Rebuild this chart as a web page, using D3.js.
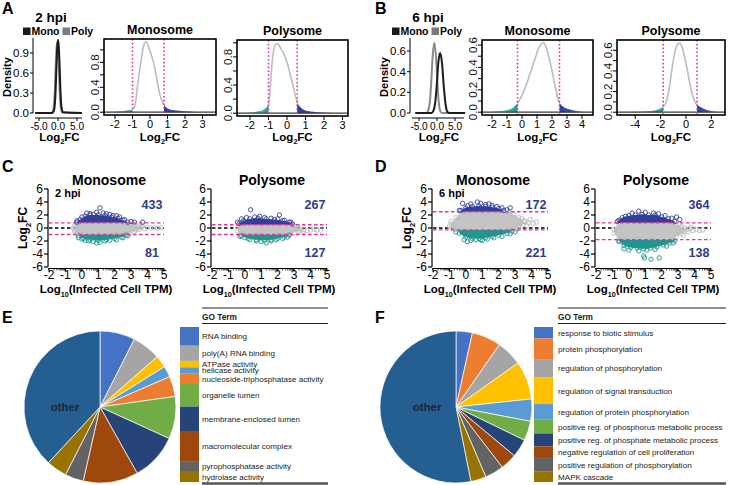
<!DOCTYPE html>
<html><head><meta charset="utf-8">
<script src="https://cdn.jsdelivr.net/npm/d3@7"></script>
<style>body{margin:0;background:#fff}svg{display:block}</style>
</head><body><script>
// ---------------- DATA ----------------
// Mini density plots (Mono / Poly), x = Log2FC, y = density
const miniA_mono = [[-6,0],[-1.6,0],[-1.1,0.03],[-0.7,0.25],[-0.4,0.7],[-0.2,0.98],[0,1.1],[0.2,1.0],[0.4,0.75],[0.6,0.4],[0.9,0.1],[1.3,0.01],[6.3,0]];
const miniA_poly = [[-6,0],[-1.8,0],[-1.3,0.03],[-0.9,0.25],[-0.6,0.7],[-0.4,0.97],[-0.2,1.06],[0,0.97],[0.2,0.72],[0.4,0.4],[0.7,0.1],[1.1,0.01],[6.3,0]];
const miniB_mono = [[-6,0],[-1.5,0],[-1.0,0.02],[-0.5,0.1],[0,0.3],[0.4,0.5],[0.9,0.58],[1.4,0.48],[1.9,0.25],[2.4,0.08],[2.9,0.01],[3.5,0],[7.8,0]];
const miniB_poly = [[-6,0],[-3,0],[-2.5,0.02],[-2,0.1],[-1.6,0.3],[-1.2,0.55],[-0.75,0.68],[-0.3,0.55],[0.1,0.3],[0.5,0.1],[0.9,0.02],[1.4,0],[7.8,0]];
const miniA_yTicks = [0,0.3,0.6,0.9];
const miniB_yTicks = [0,0.2,0.4,0.6];
const mini_xTicks = [-5,0,5];

// Density of Log2FC with thresholds
const densA_mono = [[-2.4,0],[-2.0,0.01],[-1.5,0.02],[-1.2,0.03],[-1.0,0.04],[-0.85,0.12],[-0.7,0.45],[-0.5,0.85],[-0.35,1.08],[-0.2,1.13],[-0.05,1.02],[0.1,0.9],[0.2,0.8],[0.35,0.6],[0.5,0.36],[0.6,0.25],[0.7,0.17],[0.8,0.11],[1.0,0.06],[1.4,0.03],[2.0,0.015],[2.6,0.005],[3.5,0]];
const densA_poly = [[-2.5,0],[-2.0,0.01],[-1.5,0.03],[-1.2,0.06],[-1.0,0.12],[-0.92,0.3],[-0.83,0.64],[-0.7,0.92],[-0.6,0.98],[-0.5,0.99],[-0.4,0.95],[-0.3,0.9],[-0.2,0.86],[-0.1,0.8],[0.0,0.72],[0.1,0.63],[0.2,0.52],[0.3,0.42],[0.4,0.3],[0.5,0.2],[0.55,0.15],[0.7,0.09],[0.9,0.05],[1.3,0.025],[2.0,0.01],[3.1,0]];
const densB_mono = [[-2.4,0],[-2.0,0.005],[-1.5,0.01],[-1.0,0.02],[-0.6,0.04],[-0.3,0.08],[0.0,0.15],[0.3,0.25],[0.6,0.37],[0.9,0.49],[1.1,0.57],[1.3,0.61],[1.45,0.62],[1.6,0.58],[1.8,0.49],[2.0,0.37],[2.2,0.24],[2.4,0.12],[2.5,0.08],[2.8,0.045],[3.2,0.025],[3.6,0.012],[4.0,0.005],[4.4,0]];
const densB_poly = [[-5.2,0],[-4.5,0.003],[-4.0,0.005],[-3.0,0.01],[-2.4,0.02],[-2.0,0.035],[-1.8,0.05],[-1.5,0.12],[-1.3,0.25],[-1.1,0.42],[-0.9,0.57],[-0.7,0.65],[-0.5,0.67],[-0.3,0.63],[-0.1,0.53],[0.1,0.41],[0.3,0.28],[0.5,0.17],[0.7,0.1],[0.87,0.07],[1.2,0.045],[1.6,0.025],[2.0,0.012],[2.5,0.004],[2.8,0]];
const thrA_mono = [-1.0, 0.8];
const thrA_poly = [-1.0, 0.55];
const thrB_mono = [-0.3, 2.5];
const thrB_poly = [-1.8, 0.87];
const densA_yTicks = [0,0.2,0.4,0.6,0.8,1.0];
const densA_yLabels = ["0.0","0.4","0.8"];
const densB_yTicks = [0,0.1,0.2,0.3,0.4,0.5,0.6];
const densB_yLabels = ["0.0","0.2","0.4","0.6"];
const densA_xTicks = [-2,-1,0,1,2,3];
const densBm_xTicks = [-2,-1,0,1,2,3,4];
const densBp_xTicks = [-4,-2,0,2];

// MA-style scatter: gray cloud [x, top, bottom], bands [x, edge], points [x, y]
const cMono_gray = [[-0.45,0.3,-0.4],[-0.3,0.7,-0.9],[0,0.8,-1.0],[1,0.8,-1.0],[2,0.8,-1.0],[2.6,0.8,-1.0],[2.9,0.6,-0.8],[3.2,0.4,-0.5],[3.5,0.2,-0.2]];
const cMono_grayPts = [[3.6,0.1],[3.8,-0.1],[4.0,0.1],[4.2,0.0],[4.4,0.05],[4.6,-0.05],[4.8,0.05],[3.4,0.3],[3.7,0.25],[3.3,-0.3],[-0.5,0.0],[-0.4,-0.3]];
const cMono_blue = [[-0.3,0.9],[-0.1,1.3],[0.2,1.8],[0.5,2.0],[1.0,2.0],[1.4,1.9],[1.8,1.7],[2.2,1.5],[2.5,1.2],[2.8,0.9]];
const cMono_bluePts = [[1.1,3.1],[0.3,2.3],[0.5,2.2],[0.9,2.4],[1.3,2.3],[1.5,2.2],[1.7,2.1],[2.1,1.9],[2.3,1.7],[2.6,1.3],[3.0,1.0],[3.2,0.9],[3.7,0.9],[-0.3,1.1],[0.0,1.7],[0.7,2.1],[1.9,1.9]];
const cMono_teal = [[-0.2,-1.2],[0.1,-1.6],[0.5,-1.8],[1.0,-1.9],[1.5,-1.8],[2.0,-1.6],[2.4,-1.4],[2.7,-1.1]];
const cMono_tealPts = [[0.9,-2.3],[1.1,-2.2],[0.4,-2.0],[0.2,-1.9],[0.7,-2.1],[1.4,-2.0],[1.7,-1.9],[2.1,-1.8],[2.5,-1.5],[2.8,-1.2],[-0.2,-1.5],[0.0,-1.7]];
const cMono_thr = [0.8,-1.0];
const cMono_n = [433,81];

const cPoly_gray = [[-0.45,0.2,-0.5],[-0.3,0.5,-1.0],[0,0.5,-1.0],[1,0.5,-1.0],[2,0.5,-1.0],[2.7,0.5,-1.0],[3.0,0.3,-0.7],[3.3,0.0,-0.5]];
const cPoly_grayPts = [[3.4,-0.3],[3.6,-0.2],[3.8,-0.4],[4.0,-0.3],[4.2,-0.2],[4.4,-0.3],[4.6,-0.3],[3.5,-0.6],[3.2,0.1]];
const cPoly_blue = [[-0.35,0.7],[-0.1,1.1],[0.3,1.4],[0.8,1.5],[1.3,1.4],[1.8,1.3],[2.3,1.1],[2.7,0.9],[2.9,0.6]];
const cPoly_bluePts = [[0.35,2.8],[2.1,2.0],[-0.2,1.4],[0.1,1.6],[0.6,1.7],[0.9,1.8],[1.2,1.6],[1.6,1.5],[2.0,1.4],[2.4,1.2],[2.8,0.9],[-0.45,0.9]];
const cPoly_teal = [[-0.2,-1.2],[0.2,-1.6],[0.7,-1.8],[1.2,-1.9],[1.6,-1.8],[2.0,-1.6],[2.4,-1.4],[2.7,-1.1]];
const cPoly_tealPts = [[1.3,-2.3],[1.0,-2.1],[0.7,-2.0],[1.6,-2.0],[1.9,-1.8],[0.3,-1.8],[2.3,-1.6],[2.6,-1.4],[-0.3,-1.3],[0.0,-1.5]];
const cPoly_thr = [0.5,-1.0];
const cPoly_n = [267,127];

const dMono_gray = [[-0.9,0.6,0.0],[-0.6,1.6,-0.2],[-0.3,2.3,-0.3],[0,2.5,-0.3],[1,2.5,-0.3],[2,2.5,-0.3],[2.6,2.5,-0.3],[2.9,2.1,-0.1],[3.2,1.6,0.3],[3.5,1.1,0.5]];
const dMono_grayPts = [[3.6,1.0],[3.8,0.8],[3.9,1.3],[4.1,0.7],[3.7,0.4],[4.3,0.9],[3.4,1.5],[3.3,0.1],[3.1,-0.2],[-1.0,0.3],[-0.9,1.0]];
const dMono_blue = [[-0.3,2.7],[0.0,3.1],[0.4,3.3],[0.8,3.4],[1.2,3.3],[1.6,3.2],[2.0,3.0],[2.3,2.7]];
const dMono_bluePts = [[-0.2,3.8],[0.3,3.7],[0.7,4.0],[0.9,3.8],[1.2,3.6],[1.6,3.5],[1.9,3.3],[2.2,3.1],[2.5,2.8],[2.7,3.1],[-0.4,2.7],[0.1,3.4],[1.4,3.7]];
const dMono_teal = [[-0.4,-0.8],[0.0,-1.4],[0.4,-1.6],[0.8,-1.6],[1.2,-1.5],[1.6,-1.3],[2.0,-1.1],[2.5,-0.8],[2.8,-0.5]];
const dMono_tealPts = [[0.1,-2.1],[-0.1,-1.8],[0.3,-1.9],[0.6,-1.8],[0.9,-1.8],[1.3,-1.7],[1.7,-1.5],[2.2,-1.3],[2.7,-0.9],[3.0,-0.6],[-0.6,-0.6],[1.0,-1.9]];
const dMono_thr = [2.5,-0.3];
const dMono_n = [172,221];

const dPoly_gray = [[-0.9,-0.2,-0.8],[-0.6,0.6,-1.6],[-0.3,0.8,-1.8],[0.5,0.8,-1.8],[1.5,0.8,-1.8],[2.6,0.8,-1.8],[2.9,0.5,-1.3],[3.2,0.2,-0.9],[3.4,0.0,-0.5]];
const dPoly_grayPts = [[3.5,-0.3],[3.7,-0.1],[3.9,-0.4],[4.1,-0.2],[4.3,-0.4],[4.5,-0.3],[3.6,-0.6],[3.8,0.1],[3.3,-1.1],[3.1,0.6]];
const dPoly_blue = [[-0.7,1.0],[-0.4,1.6],[0.0,1.9],[0.4,2.0],[0.8,2.1],[1.2,2.0],[1.6,2.0],[2.0,1.7],[2.4,1.4],[2.8,1.0]];
const dPoly_bluePts = [[0.6,2.6],[0.2,2.3],[1.0,2.4],[1.5,2.3],[1.8,2.2],[2.2,1.9],[2.9,1.7],[2.6,1.5],[3.1,1.3],[-0.6,1.2],[-0.2,1.8]];
const dPoly_teal = [[-0.6,-2.0],[-0.3,-2.7],[0.1,-3.0],[0.5,-3.1],[0.9,-3.2],[1.3,-3.1],[1.7,-2.9],[2.1,-2.6],[2.5,-2.3],[2.8,-2.0]];
const dPoly_tealPts = [[0.9,-4.3],[0.95,-4.6],[1.35,-4.8],[1.85,-4.6],[0.0,-3.4],[-0.3,-3.2],[0.6,-3.5],[1.6,-3.3],[2.3,-2.8],[2.7,-2.3],[-0.6,-2.1],[1.1,-3.4]];
const dPoly_thr = [0.8,-1.8];
const dPoly_n = [364,138];

const sc_yTicks = [-6,-4,-2,0,2,4,6];
const sc_xTicks = [-2,-1,0,1,2,3,4,5];

// GO term pies
const goE_terms = ["RNA binding","poly(A) RNA binding","ATPase activity","helicase activity","nucleoside-triphosphatase activity","organelle lumen","membrane-enclosed lumen","macromolecular complex","pyrophosphatase activity","hydrolase activity","other"];
const goE_values = [26.9,21.8,9.3,8.5,15.5,32.5,36.2,42.1,14.2,15.8,137.2];
const goF_terms = ["response to biotic stimulus","protein phosphorylation","regulation of phosphorylation","regulation of signal transduction","regulation of protein phosphorylation","positive reg. of phosphorus metabolic process","positive reg. of phosphate metabolic process","negative regulation of cell proliferation","positive regulation of phosphorylation","MAPK cascade","other"];
const goF_values = [12.5,22.4,19.7,29.3,17,15,14,12.6,14.4,11.8,191.3];

// ---------------- STYLE ----------------
const paletteE = ["#4472C4","#A5A5A5","#FFC000","#5B9BD5","#ED7D31","#70AD47","#264478","#9E480E","#636363","#997300","#255E91"];
const paletteF = ["#4472C4","#ED7D31","#A5A5A5","#FFC000","#5B9BD5","#70AD47","#264478","#9E480E","#636363","#997300","#255E91"];
const BLUE = "#33409a", TEAL = "#1f968f", GRAY = "#c4c4c4", PINK = "#e4339a";

const svg = d3.select("body").append("svg").attr("width",729).attr("height",485)
  .style("font-family",'"Liberation Sans", Arial, Helvetica, sans-serif');
const defs = svg.append("defs");

function text(g,x,y,s,size,opt={}){
  return g.append("text").attr("x",x).attr("y",y).attr("font-size",size)
    .attr("font-weight",opt.bold?"bold":"normal").attr("text-anchor",opt.anchor||"start")
    .attr("fill",opt.fill||"#000").text(s);
}
function subLabel(g,x,y,size,pre,sub,post,rotate){
  const t = g.append("text").attr("font-size",size).attr("font-weight","bold").attr("text-anchor","middle");
  if(rotate) t.attr("x",0).attr("y",0).attr("transform",`translate(${x},${y}) rotate(-90)`); else t.attr("x",x).attr("y",y);
  t.append("tspan").text(pre);
  if(sub){
    t.append("tspan").attr("font-size",size*0.62).attr("dy",size*0.3).text(sub);
    t.append("tspan").attr("dy",-size*0.3).text(post);
  }
  return t;
}

// panel letters
[["A",2,14],["B",375,14],["C",2,172],["D",375,172],["E",2,323],["F",375,323]].forEach(p=>text(svg,p[1],p[2],p[0],16,{bold:true}));

// ---------------- Mini density ----------------
function mini(cfg){
  const g = svg.append("g");
  const x = d3.scaleLinear().domain([-5,5]).range(cfg.xr);
  const y = d3.scaleLinear().domain([0,cfg.yRef]).range([113,cfg.yRefPx]);
  text(g,cfg.titleX,22,cfg.title,13.5,{bold:true,anchor:"middle"});
  const lx = cfg.legX;
  g.append("rect").attr("x",lx).attr("y",27.5).attr("width",7.5).attr("height",7.5).attr("fill","#1a1a1a");
  const t1 = text(g,lx+8.5,35,"Mono",10.5,{bold:true});
  const gx = lx+8.5+t1.node().getComputedTextLength()+3;
  g.append("rect").attr("x",gx).attr("y",27.5).attr("width",7.5).attr("height",7.5).attr("fill","#7a7a7a");
  text(g,gx+8.5,35,"Poly",10.5,{bold:true});
  const line = d3.line().x(d=>x(d[0])).y(d=>y(d[1])).curve(d3.curveMonotoneX);
  g.append("path").datum(cfg.poly).attr("d",line).attr("fill","none").attr("stroke","#8a8a8a").attr("stroke-width",2);
  g.append("path").datum(cfg.mono).attr("d",line).attr("fill","none").attr("stroke","#1c1c1c").attr("stroke-width",2);
  g.append("line").attr("x1",cfg.ax).attr("x2",cfg.ax).attr("y1",38).attr("y2",113).attr("stroke","#000").attr("stroke-width",1);
  cfg.yTicks.forEach(v=>{
    g.append("line").attr("x1",cfg.ax-3).attr("x2",cfg.ax).attr("y1",y(v)).attr("y2",y(v)).attr("stroke","#000");
    text(g,cfg.ax-4,y(v)+4,v.toFixed(1),11.5,{anchor:"end"});
  });
  g.append("line").attr("x1",cfg.ax+2).attr("x2",cfg.xEnd).attr("y1",118).attr("y2",118).attr("stroke","#000");
  mini_xTicks.forEach(v=>{
    g.append("line").attr("x1",x(v)).attr("x2",x(v)).attr("y1",118).attr("y2",121).attr("stroke","#000");
    text(g,x(v),130,v.toFixed(1),10,{anchor:"middle"});
  });
  subLabel(g,(cfg.ax+cfg.xEnd)/2+2,141,11.5,"Log","2","FC",false);
  subLabel(g,cfg.ax-22,77,11,"Density","","",true);
}
mini({xr:[39,77],yRef:0.9,yRefPx:53,ax:33,xEnd:82,title:"2 hpi",titleX:51,legX:23,mono:miniA_mono,poly:miniA_poly,yTicks:miniA_yTicks});
mini({xr:[419,455],yRef:0.6,yRefPx:51,ax:410,xEnd:464,title:"6 hpi",titleX:428,legX:392,mono:miniB_mono,poly:miniB_poly,yTicks:miniB_yTicks});

// ---------------- R density panels ----------------
function rdens(cfg){
  const [l,r,t,b] = cfg.box;
  const g = svg.append("g");
  const x = d3.scaleLinear().domain(cfg.xDom).range([l,r]);
  const y = d3.scaleLinear().domain(cfg.yDom).range([b,t]);
  const data = cfg.data, thr = cfg.thr;
  const lg = defs.append("linearGradient").attr("id",cfg.id+"L").attr("gradientUnits","userSpaceOnUse")
    .attr("x1",x(data[0][0])).attr("x2",x(thr[0])).attr("y1",0).attr("y2",0);
  lg.append("stop").attr("offset",0).attr("stop-color","#b9ece8");
  lg.append("stop").attr("offset",1).attr("stop-color","#1b9a92");
  const rg = defs.append("linearGradient").attr("id",cfg.id+"R").attr("gradientUnits","userSpaceOnUse")
    .attr("x1",x(thr[1])).attr("x2",x(data[data.length-1][0])).attr("y1",0).attr("y2",0);
  rg.append("stop").attr("offset",0).attr("stop-color","#2c3a9c");
  rg.append("stop").attr("offset",0.4).attr("stop-color","#4351ad");
  rg.append("stop").attr("offset",1).attr("stop-color","#b3b8e3");
  const area = d3.area().x(d=>x(d[0])).y0(y(0)).y1(d=>y(d[1])).curve(d3.curveMonotoneX);
  const line = d3.line().x(d=>x(d[0])).y(d=>y(d[1])).curve(d3.curveMonotoneX);
  g.append("path").datum(data.filter(d=>d[0]<=thr[0])).attr("d",area).attr("fill",`url(#${cfg.id}L)`);
  g.append("path").datum(data.filter(d=>d[0]>=thr[1])).attr("d",area).attr("fill",`url(#${cfg.id}R)`);
  g.append("path").datum(data.filter(d=>d[0]>=thr[0]&&d[0]<=thr[1])).attr("d",line).attr("fill","none").attr("stroke","#bdbdbd").attr("stroke-width",1.6);
  g.append("line").attr("x1",l).attr("x2",r).attr("y1",y(0)).attr("y2",y(0)).attr("stroke","#3a3a3a").attr("stroke-width",1.2);
  thr.forEach(v=>g.append("line").attr("x1",x(v)).attr("x2",x(v)).attr("y1",t).attr("y2",b)
    .attr("stroke",PINK).attr("stroke-width",1.6).attr("stroke-dasharray","1.6,2.2"));
  g.append("rect").attr("x",l).attr("y",t).attr("width",r-l).attr("height",b-t).attr("fill","none").attr("stroke","#000").attr("stroke-width",1.6);
  cfg.xTicks.forEach(v=>{
    g.append("line").attr("x1",x(v)).attr("x2",x(v)).attr("y1",b).attr("y2",b+4).attr("stroke","#000");
    text(g,x(v),b+13,String(v),11,{anchor:"middle"});
  });
  cfg.yTicks.forEach(v=>g.append("line").attr("x1",l-4).attr("x2",l).attr("y1",y(v)).attr("y2",y(v)).attr("stroke","#000"));
  cfg.yLabels.forEach(s=>{
    const yy = y(parseFloat(s));
    const lab = g.append("g").attr("transform",`translate(${l-5},${yy}) rotate(-90)`);
    lab.append("text").attr("x",0).attr("y",0).attr("text-anchor","middle")
      .attr("font-size",11.5).attr("fill","#111").text(s);
  });
  text(g,(l+r)/2,t-5,cfg.title,12.5,{bold:true,anchor:"middle"});
  subLabel(g,(l+r)/2,141,11.5,"Log","2","FC",false);
}
rdens({id:"am",box:[104,216,39,115],xDom:[-2.629,3.771],yDom:[-0.045,1.175],data:densA_mono,thr:thrA_mono,xTicks:densA_xTicks,yTicks:densA_yTicks,yLabels:densA_yLabels,title:"Monosome"});
rdens({id:"ap",box:[237,348,40,116],xDom:[-2.703,3.297],yDom:[-0.04,1.04],data:densA_poly,thr:thrA_poly,xTicks:densA_xTicks,yTicks:densA_yTicks,yLabels:densA_yLabels,title:"Polysome"});
rdens({id:"bm",box:[482,593,40,115],xDom:[-2.667,4.733],yDom:[-0.025,0.645],data:densB_mono,thr:thrB_mono,xTicks:densBm_xTicks,yTicks:densB_yTicks,yLabels:densB_yLabels,title:"Monosome"});
rdens({id:"bp",box:[617,725,40,115],xDom:[-5.433,3.071],yDom:[-0.027,0.70],data:densB_poly,thr:thrB_poly,xTicks:densBp_xTicks,yTicks:densB_yTicks,yLabels:densB_yLabels,title:"Polysome"});

// ---------------- Scatter (MA) panels ----------------
function scatter(cfg){
  const x0 = cfg.x0;
  const g = svg.append("g");
  const x = d3.scaleLinear().domain([-2,5]).range([x0+1,x0+116]);
  const y = d3.scaleLinear().domain([-6,6]).range([267,189]);
  g.append("line").attr("x1",x0+1).attr("x2",x(5)).attr("y1",y(0)).attr("y2",y(0)).attr("stroke","#000").attr("stroke-width",1.3).attr("stroke-dasharray","3.5,2.5");
  const cv = d3.curveMonotoneX;
  g.append("path").datum(cfg.gray).attr("d",d3.area().x(d=>x(d[0])).y0(d=>y(d[2])).y1(d=>y(d[1])).curve(cv)).attr("fill",GRAY);
  const circ = (pts,col)=>g.selectAll(null).data(pts).join("circle").attr("cx",d=>x(d[0])).attr("cy",d=>y(d[1])).attr("r",2.2)
    .attr("fill","none").attr("stroke",col).attr("stroke-width",0.9);
  circ(cfg.gray.map(d=>[d[0],d[1]]).concat(cfg.gray.map(d=>[d[0],d[2]])),"#bcbcbc");
  circ(cfg.grayPts,"#bcbcbc");
  const [tu,td] = cfg.thr;
  g.append("path").datum(cfg.blue).attr("d",d3.area().x(d=>x(d[0])).y0(y(tu)).y1(d=>y(d[1])).curve(cv)).attr("fill",BLUE);
  circ(cfg.blue,BLUE); circ(cfg.bluePts,BLUE);
  g.append("path").datum(cfg.teal).attr("d",d3.area().x(d=>x(d[0])).y0(y(td)).y1(d=>y(d[1])).curve(cv)).attr("fill",TEAL);
  circ(cfg.teal,TEAL); circ(cfg.tealPts,TEAL);
  cfg.thr.forEach(v=>g.append("line").attr("x1",x0+1).attr("x2",x(5)).attr("y1",y(v)).attr("y2",y(v))
    .attr("stroke",PINK).attr("stroke-width",1.3).attr("stroke-dasharray","3.5,2.5"));
  g.append("line").attr("x1",x0).attr("x2",x0).attr("y1",y(6)).attr("y2",y(-6)).attr("stroke","#000").attr("stroke-width",1.2);
  sc_yTicks.forEach(v=>{
    g.append("line").attr("x1",x0-4).attr("x2",x0).attr("y1",y(v)).attr("y2",y(v)).attr("stroke","#000").attr("stroke-width",1.2);
    text(g,x0-5,y(v)+4,String(v),12,{anchor:"end"});
  });
  const ya = 268.5;
  g.append("line").attr("x1",x0).attr("x2",x(5)).attr("y1",ya).attr("y2",ya).attr("stroke","#000").attr("stroke-width",1.2);
  sc_xTicks.forEach(v=>{
    g.append("line").attr("x1",x(v)).attr("x2",x(v)).attr("y1",ya).attr("y2",ya+3).attr("stroke","#000").attr("stroke-width",1.2);
    text(g,x(v),ya+10,String(v),12,{anchor:"middle"});
    if(v<5) [2,3,4,5,6,7,8,9].forEach(k=>{
      const xv = x(v+Math.log10(k));
      g.append("line").attr("x1",xv).attr("x2",xv).attr("y1",ya).attr("y2",ya+2).attr("stroke","#000").attr("stroke-width",0.7);
    });
  });
  const xl = g.append("text").attr("x",x0+58).attr("y",293).attr("text-anchor","middle").attr("font-size",11.5).attr("font-weight","bold");
  xl.append("tspan").text("Log");
  xl.append("tspan").attr("font-size",7.2).attr("dy",3.5).text("10");
  xl.append("tspan").attr("dy",-3.5).text("(Infected Cell TPM)");
  if(cfg.ylab) subLabel(g,x0-21,228,12,"Log","2","FC",true);
  text(g,x0+61,185,cfg.title,14,{bold:true,anchor:"middle"});
  if(cfg.hpi) text(g,x0+7,197,cfg.hpi,11,{bold:true});
  text(g,x0+104,209,String(cfg.n[0]),12.5,{bold:true,anchor:"middle",fill:"#2e3a8f"});
  text(g,x0+104,257,String(cfg.n[1]),12.5,{bold:true,anchor:"middle",fill:"#2e3a8f"});
}
scatter({x0:48,title:"Monosome",hpi:"2 hpi",ylab:true,gray:cMono_gray,grayPts:cMono_grayPts,blue:cMono_blue,bluePts:cMono_bluePts,teal:cMono_teal,tealPts:cMono_tealPts,thr:cMono_thr,n:cMono_n});
scatter({x0:211,title:"Polysome",gray:cPoly_gray,grayPts:cPoly_grayPts,blue:cPoly_blue,bluePts:cPoly_bluePts,teal:cPoly_teal,tealPts:cPoly_tealPts,thr:cPoly_thr,n:cPoly_n});
scatter({x0:432,title:"Monosome",hpi:"6 hpi",ylab:true,gray:dMono_gray,grayPts:dMono_grayPts,blue:dMono_blue,bluePts:dMono_bluePts,teal:dMono_teal,tealPts:dMono_tealPts,thr:dMono_thr,n:dMono_n});
scatter({x0:595,title:"Polysome",gray:dPoly_gray,grayPts:dPoly_grayPts,blue:dPoly_blue,bluePts:dPoly_bluePts,teal:dPoly_teal,tealPts:dPoly_tealPts,thr:dPoly_thr,n:dPoly_n});

// ---------------- GO pies ----------------
function goPie(cfg){
  const g = svg.append("g");
  const arcs = d3.pie().sort(null).value(d=>d)(cfg.values);
  const arc = d3.arc().innerRadius(0).outerRadius(76);
  g.append("g").attr("transform",`translate(${cfg.cx},${cfg.cy})`).selectAll("path").data(arcs).join("path")
    .attr("d",arc).attr("fill",(d,i)=>cfg.colors[i]).attr("stroke","#fff").attr("stroke-width",0.7);
  text(g,cfg.otherX,411,"other",11.5,{bold:true,anchor:"middle",fill:"#1b2638"});
  const n = cfg.values.length-1;
  const legVals = cfg.values.slice(0,n);
  const hs = d3.scaleLinear().domain([0,d3.sum(legVals)]).range([327,482]);
  let cum = 0;
  legVals.forEach((v,i)=>{
    const y0 = hs(cum), y1 = hs(cum+v); cum += v;
    g.append("rect").attr("x",cfg.sx).attr("y",y0).attr("width",19).attr("height",y1-y0).attr("fill",cfg.colors[i]);
    text(g,cfg.tx,(y0+y1)/2+3,cfg.terms[i],8.1,{fill:"#222"});
  });
  g.append("line").attr("x1",cfg.tx).attr("x2",cfg.tEnd).attr("y1",308).attr("y2",308).attr("stroke","#222").attr("stroke-width",1.2);
  text(g,cfg.tx,320,"GO Term",8.3,{bold:true,fill:"#222"});
  g.append("line").attr("x1",cfg.tx).attr("x2",cfg.tEnd).attr("y1",323.5).attr("y2",323.5).attr("stroke","#222").attr("stroke-width",1.2);
  g.append("line").attr("x1",cfg.tx).attr("x2",cfg.tEnd).attr("y1",483.5).attr("y2",483.5).attr("stroke","#555").attr("stroke-width",2.5);
}
goPie({cx:100,cy:407,otherX:65,values:goE_values,terms:goE_terms,colors:paletteE,sx:180,tx:202,tEnd:328});
goPie({cx:456,cy:407,otherX:427,values:goF_values,terms:goF_terms,colors:paletteF,sx:534,tx:558,tEnd:726});
</script></body></html>
